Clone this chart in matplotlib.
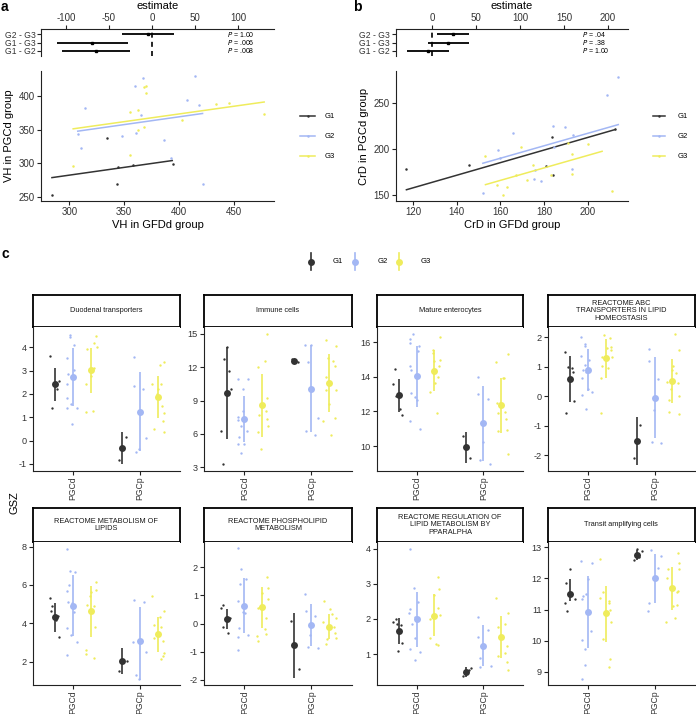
import numpy as np
import matplotlib
matplotlib.use("Agg")
import matplotlib.pyplot as plt
from matplotlib.lines import Line2D

plt.rcParams['font.family'] = ['Liberation Sans', 'DejaVu Sans']
plt.rcParams['axes.unicode_minus'] = False

W, H = 696, 714
groups = ['G1', 'G2', 'G3']
colors = ['#333333', '#A3B7F4', '#EFEC5C']
tick_col = '#333333'

# ---- panel a / b : pairwise comparisons ----
contrasts = ['G1 - G2', 'G1 - G3', 'G2 - G3']
a_est = [-64.7, -69.4, -4.6]
a_lo = [-105, -110, -35.2]
a_hi = [-25.2, -28.3, 25.2]
a_p = ['.008', '.006', '1.00']
b_est = [-5, 18.2, 24]
b_lo = [-29, -5, 5.3]
b_hi = [18.6, 41.8, 41.4]
b_p = ['1.00', '.38', '.04']

# ---- panel a scatter (VH) ----
a_x = [[284, 334, 343.6, 344.5, 358, 395],
       [367, 414.6, 359.8, 407.6, 314, 365, 418.6, 307.6, 360.7, 348, 386, 311, 393, 421.7],
       [368, 370, 370, 355, 363, 434, 446, 478, 402.5, 368, 363, 355.5, 303.4]]
a_y = [[252.5, 338, 268.6, 294.6, 297, 299.5],
       [427.6, 430, 416, 394, 382.6, 371.6, 386.5, 344, 344.5, 340.5, 335.5, 323.5, 308, 268.6],
       [413.5, 415, 405, 377, 379, 388.6, 389.5, 373.6, 364.6, 353.5, 349.6, 312, 296]]
a_fit_x = [(284, 394), (307.6, 421.7), (303.4, 478)]
a_fit = [(0.232, 212.6), (0.232, 276.6), (0.2297, 281.8)]

# ---- panel b scatter (CrD) ----
b_x = [[117, 145.6, 183.5, 180.8, 184.3, 212.3],
       [214, 209, 184.3, 189.5, 165.7, 193.3, 159, 160, 184.8, 176, 175.3, 178.4, 193, 152],
       [153.2, 169.4, 190.9, 200.3, 193, 174.9, 167.3, 172.3, 183.4, 192.9, 158.3, 163, 161, 211]]
b_y = [[179, 182.6, 213, 181.5, 172.5, 221.7],
       [278.6, 258.7, 225.7, 224, 218, 216, 199.7, 190, 202.5, 178, 168, 165.5, 178.6, 153],
       [192.4, 202.5, 207.2, 206, 194.6, 182.6, 172.5, 167, 172.5, 173, 161, 159.4, 150, 155]]
b_fit_x = [(117, 212.6), (152, 214), (153.2, 206.6)]
b_fit = [(0.684, 76.0), (0.677, 81.9), (0.678, 57.7)]

# ---- panel c : GSZ per gene set ----
conds = ['PGCd', 'PGCp']
sets = ['Duodenal transporters', 'Immune cells', 'Mature enterocytes',
        'REACTOME ABC\nTRANSPORTERS IN LIPID\nHOMEOSTASIS',
        'REACTOME METABOLISM OF\nLIPIDS', 'REACTOME PHOSPHOLIPID\nMETABOLISM',
        'REACTOME REGULATION OF\nLIPID METABOLISM BY\nPPARALPHA', 'Transit amplifying cells']
set_ylim = [(-1.29, 4.87), (2.67, 15.63), (8.58, 16.87), (-2.52, 2.35),
            (0.78, 8.26), (-2.18, 2.91), (0.12, 4.2), (8.58, 13.18)]
set_ticks = [[-1, 0, 1, 2, 3, 4], [3, 6, 9, 12, 15], [10, 12, 14, 16], [-2, -1, 0, 1, 2],
             [2, 4, 6, 8], [-2, -1, 0, 1, 2], [1, 2, 3, 4], [9, 10, 11, 12, 13]]
# order in each row: PGCd G1, G2, G3, PGCp G1, G2, G3
gsz_mean = [[2.41, 2.73, 3.01, -0.31, 1.24, 1.87],
            [9.65, 7.33, 8.59, 12.56, 10.04, 10.58],
            [12.92, 14.04, 14.33, 9.92, 11.35, 12.35],
            [0.59, 0.89, 1.29, -1.53, -0.05, 0.52],
            [4.33, 4.92, 4.63, 2.03, 3.06, 3.43],
            [0.17, 0.64, 0.58, -0.76, -0.05, -0.11],
            [1.66, 2.0, 2.09, 0.49, 1.24, 1.5],
            [11.51, 10.93, 10.88, 12.75, 12.03, 11.7]]
gsz_lo = [[1.7, 1.5, 2.06, -1.01, -0.43, 0.96],
          [5.56, 5.23, 5.71, 12.4, 6.16, 7.99],
          [11.96, 12.27, 13.19, 9.04, 9.12, 10.73],
          [-0.19, 0.19, 0.61, -2.31, -1.4, -0.21],
          [3.53, 3.36, 3.3, 1.36, 1.06, 2.52],
          [-0.2, -0.34, -0.14, -1.94, -0.79, -0.56],
          [1.3, 1.19, 1.52, 0.35, 0.66, 0.9],
          [11.29, 9.76, 9.97, 12.6, 11.22, 10.99]]
gsz_hi = [[3.13, 3.96, 3.96, 0.39, 2.93, 2.77],
          [13.83, 9.4, 11.39, 12.7, 13.98, 13.17],
          [13.85, 15.79, 15.54, 10.79, 13.46, 13.9],
          [1.37, 1.59, 1.93, -0.71, 1.32, 1.27],
          [5.08, 6.52, 5.95, 2.7, 4.85, 4.35],
          [0.51, 1.61, 1.29, 0.39, 0.69, 0.34],
          [2.02, 2.78, 2.7, 0.62, 1.84, 2.08],
          [11.97, 12.08, 11.77, 12.9, 12.79, 12.38]]

# individual samples: (jitter, value)
pts_duodenal = [
    [(-0.08, 3.64), (-0.05, 1.41), (0.03, 2.2), (0.065, 2.54), (-0.02, 2.45)],
    [(-0.05, 4.54), (-0.05, 4.46), (0.02, 4.1), (-0.09, 3.53), (-0.08, 2.86), (-0.09, 2.43), (0.01, 3.03),
     (-0.09, 1.81), (-0.09, 1.41), (-0.03, 1.56), (0.06, 1.41), (-0.02, 0.71)],
    [(0.08, 4.5), (0.05, 4.19), (0.09, 4.0), (-0.06, 3.93), (-0.07, 2.43), (0.0, 2.76), (0.05, 3.1),
     (-0.07, 1.21), (0.04, 1.29), (0.02, 3.03)],
    [(-0.04, -0.83), (0.06, 0.17), (0.0, -0.3)],
    [(-0.09, 3.6), (-0.08, 2.33), (0.05, 2.23), (0.09, 0.11), (-0.05, -0.49), (-0.01, -0.36)],
    [(0.04, 3.23), (0.095, 3.36), (-0.08, 2.43), (0.045, 2.43), (0.0, 2.23), (0.06, 1.5), (0.095, 1.17),
     (0.08, 0.86), (-0.05, 0.5), (0.095, 0.36), (-0.015, 2.0)]]
pts_immune = [
    [(0, 13.83), (-0.045, 12.71), (0.03, 11.66), (0.06, 10.0), (-0.08, 6.28), (-0.05, 3.24)],
    [(-0.1, 10.9), (0.05, 10.9), (-0.02, 10.04), (-0.02, 8.08), (-0.09, 7.54), (-0.09, 7.24), (-0.05, 6.7),
     (0.035, 6.25), (-0.08, 5.74), (0, 5.08), (-0.09, 5.08), (-0.05, 4.23)],
    [(-0.07, 12.05), (0.04, 12.56), (0.065, 14.97), (0.065, 9.23), (0.055, 8.02), (0.065, 7.3),
     (-0.05, 7.69), (-0.07, 6.19), (0.08, 6.7), (-0.015, 4.62)],
    [(0, 12.62), (0.07, 12.44), (-0.03, 12.71)],
    [(-0.09, 14.0), (-0.01, 14.0), (-0.05, 12.5), (0.1, 7.45), (-0.08, 6.28), (0.06, 5.89)],
    [(-0.05, 14.46), (0.1, 13.92), (0.06, 12.56), (0.09, 12.14), (-0.05, 11.15), (-0.05, 9.95), (0.1, 9.95),
     (0, 8.68), (0.08, 7.45), (-0.09, 7.15), (0.03, 5.89), (-0.015, 12.8)]]
pts_mature = [
    [(-0.06, 14.42), (-0.09, 13.58), (0.02, 12.12), (0.05, 11.81), (-0.04, 12.9)],
    [(-0.05, 16.44), (-0.1, 16.17), (-0.1, 15.92), (0.035, 15.77), (0.025, 15.46), (-0.1, 14.62),
     (-0.09, 14.38), (-0.08, 13.04), (-0.03, 12.85), (0, 12.65), (-0.1, 11.46), (0.055, 11.0)],
    [(0.09, 16.3), (-0.02, 15.54), (0, 14.88), (0.08, 14.96), (0.065, 14.63), (0.05, 14.0), (0.01, 13.65),
     (-0.07, 13.13), (0.04, 11.92), (-0.02, 15.35)],
    [(-0.04, 10.56), (0.07, 9.29), (0, 9.9)],
    [(-0.075, 13.98), (-0.085, 13.02), (0.07, 12.69), (-0.01, 10.25), (-0.045, 9.19), (0.1, 8.96)],
    [(-0.08, 14.85), (0.1, 15.31), (0.025, 13.9), (-0.065, 12.5), (-0.05, 11.92), (0.06, 11.94), (0.08, 11.54),
     (-0.05, 10.88), (0.09, 10.92), (0.1, 9.56), (0.045, 13.9), (-0.015, 12.46)]]
pts_abc = [
    [(-0.085, 1.5), (-0.03, 0.99), (0.04, 0.84), (0.055, -0.17), (-0.06, -0.55), (0.02, 0.95)],
    [(-0.1, 2.0), (-0.05, 1.76), (-0.045, 1.7), (-0.1, 1.36), (0.02, 1.23), (-0.04, 1.06), (-0.08, 0.89),
     (-0.03, 0.82), (-0.09, 0.63), (0, 0.25), (0.06, 0.16), (-0.095, 0.04), (-0.035, -0.43)],
    [(-0.02, 2.09), (0.06, 1.99), (0.075, 1.68), (0.08, 1.58), (-0.05, 1.34), (0.09, 1.34), (-0.06, 1.04),
     (0.03, 0.95), (-0.07, 0.61), (-0.07, -0.55), (0.02, 1.65)],
    [(0.05, -0.96), (-0.035, -2.09), (0, -1.55)],
    [(-0.09, 1.6), (-0.09, 1.2), (0.055, 0.58), (-0.015, -0.01), (-0.015, -0.46), (-0.045, -1.55), (0.09, -1.57)],
    [(0.045, 2.1), (0.1, 1.57), (0.01, 1.03), (-0.085, 0.47), (-0.02, 0.25), (0.09, 0.45), (-0.055, -0.12),
     (0.095, 0.02), (-0.055, -0.53), (0.1, -0.61), (0.06, 0.78), (0, 0.89)]]
pts_lipids = [
    [(-0.08, 5.34), (-0.04, 4.92), (-0.055, 4.66), (0.065, 3.29), (0.02, 4.17), (0.04, 4.37)],
    [(-0.09, 7.9), (-0.05, 6.75), (0.03, 6.66), (-0.055, 6.0), (-0.09, 5.7), (-0.075, 5.13), (-0.01, 5.08),
     (-0.09, 3.74), (-0.03, 3.39), (0.06, 3.04), (-0.09, 2.33), (0.01, 4.6)],
    [(0.075, 6.14), (0.08, 5.74), (0, 5.65), (-0.05, 4.96), (0.05, 4.9), (0.065, 3.79), (-0.065, 2.59),
     (-0.065, 2.42), (0.045, 2.17), (-0.005, 5.4)],
    [(-0.045, 1.51), (0.07, 2.02), (0, 2.0)],
    [(-0.09, 5.2), (0.06, 5.13), (-0.1, 3.0), (0.09, 2.52), (-0.06, 1.29), (-0.01, 1.11)],
    [(-0.085, 5.43), (0.095, 4.66), (0.035, 4.33), (-0.05, 3.9), (0.045, 3.83), (0.075, 3.1), (-0.055, 3.22),
     (0.1, 2.45), (0.08, 2.3), (0.055, 2.12)]]
pts_phospho = [
    [(-0.09, 0.57), (-0.05, 0.65), (-0.06, -0.11), (0.025, -0.34), (0.05, 0.19)],
    [(-0.09, 2.67), (-0.055, 1.94), (-0.06, 1.4), (0.02, 1.57), (-0.1, 0.8), (-0.02, 0.4), (0.01, 0.37),
     (-0.08, -0.17), (0.06, -0.4), (-0.1, -0.47), (-0.09, -0.93)],
    [(0.07, 1.64), (0, 1.08), (0.08, 1.25), (0.09, 0.86), (-0.07, 0.54), (0.05, 0.21), (0.04, -0.19),
     (-0.085, -0.43), (-0.065, -0.6), (0.055, -0.37), (-0.035, 0.6)],
    [(-0.04, 0.08), (0.075, -1.6), (0, -0.76)],
    [(-0.09, 1.04), (-0.08, 0.44), (0.06, 0.28), (-0.015, -0.39), (-0.045, -0.83), (0.1, -0.85)],
    [(-0.085, 0.8), (0.01, 0.53), (0.045, 0.34), (0.095, 0.21), (-0.1, 0.07), (0.09, -0.34), (0.105, -0.5),
     (-0.04, -0.53), (-0.05, -0.72), (0.065, -0.11)]]
pts_ppar = [
    [(-0.09, 1.92), (-0.04, 1.99), (-0.03, 1.86), (0.03, 1.83), (0.04, 1.32), (-0.015, 1.08)],
    [(-0.1, 4.0), (-0.045, 2.89), (-0.1, 2.27), (-0.11, 2.16), (0.02, 2.49), (-0.07, 1.87), (-0.025, 2.06),
     (-0.02, 1.47), (0.05, 1.06), (-0.1, 1.15), (-0.03, 0.83)],
    [(0.05, 3.19), (0.07, 2.86), (0, 2.67), (0.05, 2.3), (0.08, 2.11), (-0.07, 2.0), (-0.07, 1.47),
     (0.03, 1.28), (0.06, 1.26)],
    [(-0.035, 0.37), (0.075, 0.6), (0.045, 0.54)],
    [(-0.085, 2.07), (-0.085, 1.49), (0.07, 1.7), (-0.045, 0.89), (-0.045, 0.62), (0.11, 0.67)],
    [(-0.08, 2.6), (0.1, 2.18), (-0.05, 1.78), (0.06, 1.85), (0.095, 1.24), (-0.045, 0.95), (0.06, 1.04),
     (0.09, 0.78), (0.11, 0.54), (-0.015, 1.51)]]
pts_transit = [
    [(0, 12.29), (-0.06, 11.87), (-0.085, 11.2), (-0.05, 10.95), (0.065, 11.33)],
    [(-0.1, 12.56), (0.06, 12.5), (0, 11.98), (-0.08, 11.44), (-0.035, 11.5), (-0.09, 11.33), (0.04, 10.3),
     (-0.095, 10.03), (-0.045, 9.75), (-0.045, 9.22), (-0.09, 8.78)],
    [(-0.08, 12.63), (-0.08, 11.38), (-0.045, 11.58), (0.045, 11.29), (0.06, 10.99), (0.085, 10.6),
     (-0.035, 10.06), (0.065, 9.42), (0.045, 9.17), (0.05, 11.2)],
    [(-0.035, 12.6), (0.075, 12.88), (0, 12.94), (0.035, 12.68)],
    [(-0.055, 12.91), (0.09, 12.72), (0.05, 12.32), (-0.09, 11.22), (-0.095, 10.96)],
    [(0.085, 12.83), (0.1, 12.51), (0.1, 12.29), (-0.065, 12.29), (-0.075, 12.02), (0.065, 11.56),
     (0.09, 11.6), (0.065, 11.15), (0.015, 11.1), (0.045, 10.73), (-0.095, 10.6)]]
set_points = [pts_duodenal, pts_immune, pts_mature, pts_abc,
              pts_lipids, pts_phospho, pts_ppar, pts_transit]


def rect(x0, y0, x1, y1):
    return [x0 / W, 1 - y1 / H, (x1 - x0) / W, (y1 - y0) / H]


def style_axis(ax, spines=('left', 'bottom'), size=7):
    for s in ['left', 'right', 'top', 'bottom']:
        ax.spines[s].set_visible(s in spines)
        ax.spines[s].set_linewidth(0.8)
        ax.spines[s].set_color('#222222')
    ax.tick_params(length=3, width=0.8, color='#222222', labelsize=size, labelcolor=tick_col, pad=1.5)


fig = plt.figure(figsize=(W / 100, H / 100), dpi=100)


def forest(box, est, lo, hi, pvals, xlim, xticks):
    ax = fig.add_axes(rect(*box))
    style_axis(ax, ('left', 'top'))
    ax.xaxis.tick_top()
    ax.xaxis.set_label_position('top')
    y = np.arange(1, 4)
    ax.hlines(y, lo, hi, color='black', lw=1.3)
    ax.plot(est, y, 's', color='black', ms=1.6)
    ax.axvline(0, color='black', lw=1.2, ls=(0, (3, 2.5)))
    ax.set_xlim(*xlim)
    ax.set_ylim(0.4, 3.6)
    ax.set_xticks(xticks)
    ax.set_yticks(y)
    ax.set_yticklabels(contrasts)
    ax.tick_params(axis='y', labelsize=6.2, pad=1)
    ax.set_xlabel('estimate', fontsize=8, labelpad=3)
    for yi, p in zip(y, pvals):
        ax.text(xlim[1] - 0.2 * (xlim[1] - xlim[0]), yi, r'$P$ = ' + p, fontsize=5,
                va='center', ha='left')
    return ax


forest((41, 29, 274, 56), a_est, a_lo, a_hi, a_p, (-129, 142), [-100, -50, 0, 50, 100])
forest((395.5, 29, 628.3, 56), b_est, b_lo, b_hi, b_p, (-42, 223), [0, 50, 100, 150, 200])


def scatter(box, xs, ys, fx, fc, xlim, ylim, xticks, yticks, xlabel, ylabel):
    ax = fig.add_axes(rect(*box))
    style_axis(ax)
    for g in range(3):
        ax.plot(xs[g], ys[g], 'o', color=colors[g], ms=1.8, mec='none')
        x0, x1 = fx[g]
        s, b = fc[g]
        ax.plot([x0, x1], [s * x0 + b, s * x1 + b], color=colors[g], lw=1.1)
    ax.set_xlim(*xlim)
    ax.set_ylim(*ylim)
    ax.set_xticks(xticks)
    ax.set_yticks(yticks)
    ax.set_xlabel(xlabel, fontsize=8, labelpad=2)
    ax.set_ylabel(ylabel, fontsize=8, labelpad=3)
    return ax


scatter((41, 71, 274, 201), a_x, a_y, a_fit_x, a_fit, (274, 487), (243.5, 438),
        [300, 350, 400, 450], [250, 300, 350, 400], 'VH in GFDd group', 'VH in PGCd group')
scatter((395.5, 71, 628.3, 201), b_x, b_y, b_fit_x, b_fit, (112, 218.6), (143.8, 285),
        [120, 140, 160, 180, 200], [150, 200, 250], 'CrD in GFDd group', 'CrD in PGCd group')

# facet grid
col_x = [(32.7, 180), (204.3, 351.6), (376.7, 523.3), (548, 694.5)]
row_y = [(295, 327, 470.7), (508.3, 541.7, 685)]
dodge = [-0.267, 0, 0.267]
for k in range(8):
    r, c = divmod(k, 4)
    x0, x1 = col_x[c]
    s0, s1, p1 = row_y[r]
    sx = fig.add_axes(rect(x0, s0, x1, s1))
    sx.set_xticks([])
    sx.set_yticks([])
    for sp in sx.spines.values():
        sp.set_linewidth(1.3)
        sp.set_color('black')
    sx.text(0.5, 0.5, sets[k], ha='center', va='center', fontsize=5.3,
            linespacing=1.05, transform=sx.transAxes, color='#1a1a1a')

    ax = fig.add_axes(rect(x0, s1, x1, p1))
    style_axis(ax, size=6.6)
    for ci in range(2):
        for g in range(3):
            j = ci * 3 + g
            xc = ci + 1 + dodge[g]
            pts = set_points[k][j]
            ax.plot([xc + d for d, v in pts], [v for d, v in pts], 'o', color=colors[g],
                    ms=1.7, mec='none', zorder=2)
            ax.vlines(xc, gsz_lo[k][j], gsz_hi[k][j], color=colors[g], lw=1.2, zorder=3)
            ax.plot(xc, gsz_mean[k][j], 'o', color=colors[g], ms=5.0, mec='none', zorder=4)
    ax.set_xlim(0.4, 2.6)
    ax.set_ylim(*set_ylim[k])
    ax.set_yticks(set_ticks[k])
    ax.set_xticks([1, 2])
    ax.set_xticklabels(conds, rotation=90)
    ax.tick_params(axis='x', labelsize=6.2, pad=1)

# overlay for labels and legends
ov = fig.add_axes([0, 0, 1, 1])
ov.set_xlim(0, W)
ov.set_ylim(H, 0)
ov.axis('off')
for lab, x, y in [('a', 1, 7), ('b', 353, 7), ('c', 1, 254)]:
    ov.text(x, y, lab, fontsize=10, fontweight='bold', va='center', ha='left')
ov.text(15, 503, 'GSZ', rotation=90, fontsize=8, va='center', ha='center')

# legends for a and b
for lx in [(300, 315, 325), (653, 665, 678)]:
    for g, yy in zip(range(3), [116, 136, 156]):
        ov.add_line(Line2D([lx[0], lx[1]], [yy, yy], color=colors[g], lw=1.1))
        ov.plot((lx[0] + lx[1]) / 2, yy, 'o', color=colors[g], ms=1.8, mec='none')
        ov.text(lx[2], yy, groups[g], fontsize=5.5, va='center', ha='left')

# legend for c
for g, (mx, tx) in enumerate([(311, 333), (355, 378), (399, 421)]):
    ov.add_line(Line2D([mx, mx], [253, 270], color=colors[g], lw=1.2))
    ov.plot(mx, 261.5, 'o', color=colors[g], ms=5.0, mec='none')
    ov.text(tx, 261.5, groups[g], fontsize=5.5, va='center', ha='left')

fig.savefig('out.png', dpi=100)
